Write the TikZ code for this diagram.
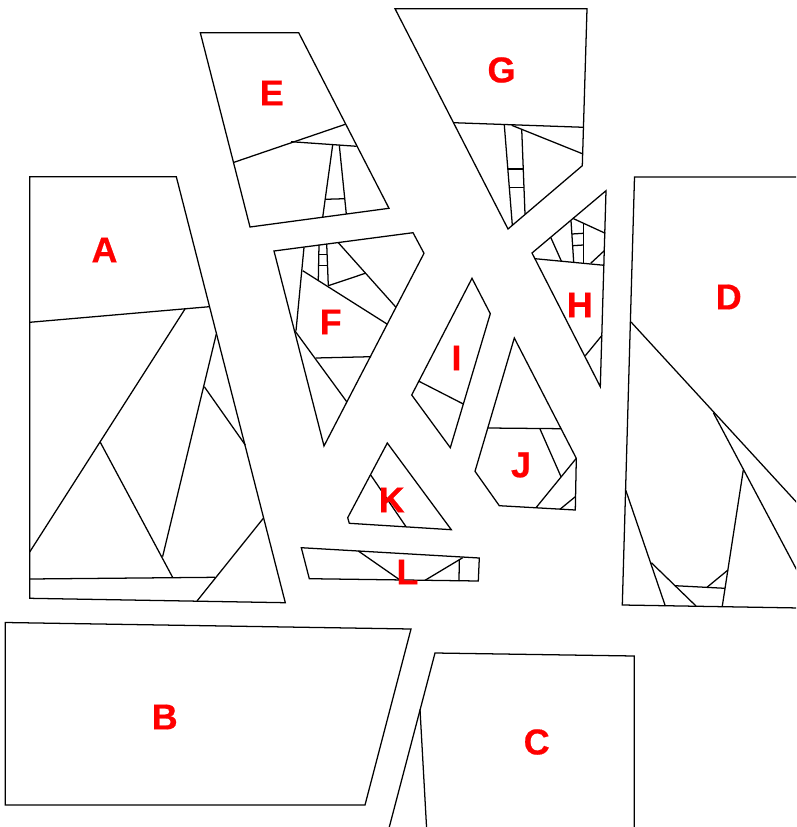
\documentclass[tikz,border=0pt]{standalone}
\usepackage{fontspec}
\setmainfont{Liberation Sans}
\newfontfamily\tagfont[FakeBold=0.5]{Liberation Sans Bold}
\tikzset{
  edgeline/.style={draw=black,line width=0.95pt,line join=miter},
  tag/.style={text=red,font=\fontsize{27pt}{27pt}\tagfont,inner sep=0pt,anchor=center}
}
\begin{document}
\begin{tikzpicture}[x=0.75pt,y=-0.75pt]
\useasboundingbox (0,0) rectangle (796,827);
\clip (0,0) rectangle (796,827);
% A
\draw[edgeline] (29.7,176.7) -- (176.3,176.7) -- (285.3,602.7) -- (29.7,598.3) -- cycle;
\draw[edgeline] (29.7,322.3) -- (209.3,306.7);
\draw[edgeline] (185,309) -- (29.7,552);
\draw[edgeline] (100.3,442.3) -- (172.6,577.3);
\draw[edgeline] (216.3,334) -- (162.6,556.7);
\draw[edgeline] (204.3,386.7) -- (245.3,445);
\draw[edgeline] (29.7,579) -- (215,577.3);
\draw[edgeline] (263.3,518.3) -- (197,601);
% B
\draw[edgeline] (5.3,622.5) -- (411,629) -- (365,805) -- (5.3,805) -- cycle;
% C
\draw[edgeline] (389.3,827) -- (435,653) -- (634.3,656) -- (634.3,830);
\draw[edgeline] (420,709.3) -- (426.7,830);
% D
\draw[edgeline] (800,177) -- (634.5,177) -- (622.3,605) -- (800,608);
\draw[edgeline] (631,322) -- (800,506);
\draw[edgeline] (713.3,412.7) -- (800,576);
\draw[edgeline] (743.3,470) -- (722.3,606);
\draw[edgeline] (625.7,490) -- (665.3,606);
\draw[edgeline] (651.3,562.7) -- (696,606);
\draw[edgeline] (675,585.7) -- (725,588.3);
\draw[edgeline] (728,570) -- (707.3,587);
% E
\draw[edgeline] (200.3,32.7) -- (298.7,32.7) -- (389,208.3) -- (250,227) -- cycle;
\draw[edgeline] (234,162.3) -- (345.3,124.3);
\draw[edgeline] (291,141.7) -- (356.7,146.3);
\draw[edgeline] (332.7,144.7) -- (322.7,217.3);
\draw[edgeline] (339.3,145.3) -- (346.3,214);
\draw[edgeline] (325.3,199.3) -- (345,198.7);
% F
\draw[edgeline] (274,251) -- (413,232.7) -- (424,253.3) -- (324,446) -- cycle;
\draw[edgeline] (304,247.3) -- (296,330.7);
\draw[edgeline] (302.7,270.7) -- (387,324);
\draw[edgeline] (319,244.7) -- (318.3,280);
\draw[edgeline] (326.7,244) -- (328.3,285.7);
\draw[edgeline] (318.3,254.3) -- (327,254.3);
\draw[edgeline] (318.3,265.7) -- (327.7,265.7);
\draw[edgeline] (338.3,242.7) -- (396,307.3);
\draw[edgeline] (365.3,273.3) -- (328.3,285.7);
\draw[edgeline] (294.3,330) -- (346.7,401.7);
\draw[edgeline] (315.7,358) -- (371,356.7);
% G
\draw[edgeline] (395,8.7) -- (587,8.7) -- (582.3,165.7) -- (508,229) -- cycle;
\draw[edgeline] (453.3,122.7) -- (583.7,127.3);
\draw[edgeline] (504.3,125) -- (512.3,225);
\draw[edgeline] (521.7,129) -- (525,214);
\draw[edgeline] (511.7,125.3) -- (582.3,153.7);
\draw[edgeline] (508.3,169) -- (523.3,169);
\draw[edgeline] (509.3,187.7) -- (524,187.7);
% H
\draw[edgeline] (606,190.7) -- (532,253) -- (600.3,386.7) -- cycle;
\draw[edgeline] (535,258.7) -- (604.3,265.3);
\draw[edgeline] (550.7,237.3) -- (561.3,261);
\draw[edgeline] (572.7,218.3) -- (605.3,233.3);
\draw[edgeline] (571,220.7) -- (573.7,262.3);
\draw[edgeline] (583.3,223.3) -- (583.3,263.3);
\draw[edgeline] (572,234) -- (583.3,233.3);
\draw[edgeline] (572.7,245.7) -- (583.3,245);
\draw[edgeline] (604.3,250.7) -- (590.7,263.3);
\draw[edgeline] (602,335.3) -- (585.3,355.7);
% I
\draw[edgeline] (472,278.3) -- (490.3,313.7) -- (450.3,447.7) -- (411.7,395) -- cycle;
\draw[edgeline] (419,381.3) -- (463.3,404);
% J
\draw[edgeline] (514.3,338) -- (576.3,458.3) -- (575.3,510) -- (499.3,505.7) -- (475,471.3) -- cycle;
\draw[edgeline] (487.7,428) -- (561,428.7);
\draw[edgeline] (540,429) -- (561,476.7);
\draw[edgeline] (576.3,458.3) -- (536,507.7);
\draw[edgeline] (575.3,496.7) -- (560.3,509);
% K
\draw[edgeline] (387.3,443) -- (451.3,529.7) -- (349.3,523.3) -- (347.7,517.7) -- cycle;
\draw[edgeline] (370.7,475) -- (406,526.7);
% L
\draw[edgeline] (301.3,547.7) -- (479.3,558) -- (478.3,581) -- (309.3,578.7) -- cycle;
\draw[edgeline] (358.3,551) -- (400,580);
\draw[edgeline] (462.7,557.7) -- (425,580.3);
\draw[edgeline] (459.3,560) -- (459,581);
% labels
\node[tag] (la) at (104.5,250) {A};
\node[tag] (lb) at (164.7,717) {B};
\node[tag] (lc) at (536.7,742) {C};
\node[tag] (ld) at (728.7,297) {D};
\node[tag] (le) at (271.7,93) {E};
\node[tag] (lf) at (330.7,322) {F};
\node[tag] (lg) at (501.5,70) {G};
\node[tag] (lh) at (579.7,305) {H};
\node[tag] (li) at (456.5,358) {I};
\node[tag] (lj) at (521,465) {J};
\node[tag] (lk) at (391.7,500) {K};
\node[tag] (ll) at (407.5,572) {L};
\end{tikzpicture}
\end{document}
